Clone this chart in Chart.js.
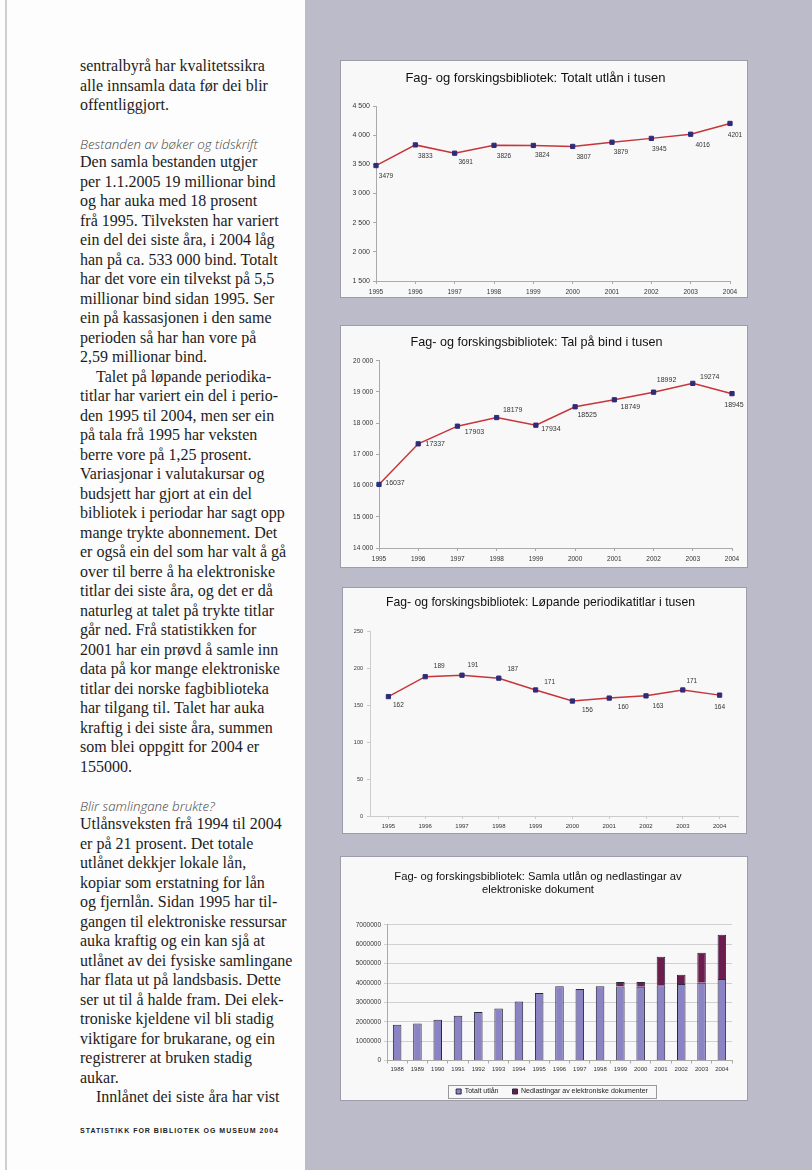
<!DOCTYPE html>
<html>
<head>
<meta charset="utf-8">
<script src="https://cdn.jsdelivr.net/npm/chart.js@4.4.0/dist/chart.umd.min.js"></script>
<style>
  body { margin: 0; width: 812px; height: 1170px; position: relative; background: #fdfdfd; overflow: hidden; }
  .edge { position: absolute; left: 5px; top: 0; width: 2px; height: 1170px; background: #cfcfd2; }
  .panel { position: absolute; left: 305px; top: 0; width: 507px; height: 1170px; background: #bcbbca; }
  .box { position: absolute; background: #f8f8f8; border: 1px solid #9d9ca8; overflow: visible; }
  .box canvas { position: absolute; left: 0; top: 0; }
  .txt { position: absolute; left: 80px; font-family: "Liberation Serif", serif; font-size: 16px;
         line-height: 19.5px; color: #1c1c1c; white-space: nowrap; }
  .ind { padding-left: 16px; }
  .head { position: absolute; left: 80px; font-family: "Open Sans", sans-serif; font-style: italic;
          font-weight: 300; font-size: 13.3px; line-height: 14px; color: #444; white-space: nowrap; }
  .foot { position: absolute; left: 80px; top: 1127px; font-family: "Liberation Sans", sans-serif;
          font-weight: bold; font-size: 7px; letter-spacing: 1px; color: #222; white-space: nowrap; }
</style>
</head>
<body>
<div class="edge"></div>

<div class="txt" style="top:56px">
  <div>sentralbyrå har kvalitetssikra</div>
  <div>alle innsamla data før dei blir</div>
  <div>offentliggjort.</div>
</div>

<div class="head" style="top:137px">Bestanden av bøker og tidskrift</div>

<div class="txt" style="top:152px">
  <div>Den samla bestanden utgjer</div>
  <div>per 1.1.2005 19 millionar bind</div>
  <div>og har auka med 18 prosent</div>
  <div>frå 1995. Tilveksten har variert</div>
  <div>ein del dei siste åra, i 2004 låg</div>
  <div>han på ca. 533 000 bind. Totalt</div>
  <div>har det vore ein tilvekst på 5,5</div>
  <div>millionar bind sidan 1995. Ser</div>
  <div>ein på kassasjonen i den same</div>
  <div>perioden så har han vore på</div>
  <div>2,59 millionar bind.</div>
  <div class="ind">Talet på løpande periodika-</div>
  <div>titlar har variert ein del i perio-</div>
  <div>den 1995 til 2004, men ser ein</div>
  <div>på tala frå 1995 har veksten</div>
  <div>berre vore på 1,25 prosent.</div>
  <div>Variasjonar i valutakursar og</div>
  <div>budsjett har gjort at ein del</div>
  <div>bibliotek i periodar har sagt opp</div>
  <div>mange trykte abonnement. Det</div>
  <div>er også ein del som har valt å gå</div>
  <div>over til berre å ha elektroniske</div>
  <div>titlar dei siste åra, og det er då</div>
  <div>naturleg at talet på trykte titlar</div>
  <div>går ned. Frå statistikken for</div>
  <div>2001 har ein prøvd å samle inn</div>
  <div>data på kor mange elektroniske</div>
  <div>titlar dei norske fagbiblioteka</div>
  <div>har tilgang til. Talet har auka</div>
  <div>kraftig i dei siste åra, summen</div>
  <div>som blei oppgitt for 2004 er</div>
  <div>155000.</div>
</div>

<div class="head" style="top:799px">Blir samlingane brukte?</div>

<div class="txt" style="top:814px">
  <div>Utlånsveksten frå 1994 til 2004</div>
  <div>er på 21 prosent. Det totale</div>
  <div>utlånet dekkjer lokale lån,</div>
  <div>kopiar som erstatning for lån</div>
  <div>og fjernlån. Sidan 1995 har til-</div>
  <div>gangen til elektroniske ressursar</div>
  <div>auka kraftig og ein kan sjå at</div>
  <div>utlånet av dei fysiske samlingane</div>
  <div>har flata ut på landsbasis. Dette</div>
  <div>ser ut til å halde fram. Dei elek-</div>
  <div>troniske kjeldene vil bli stadig</div>
  <div>viktigare for brukarane, og ein</div>
  <div>registrerer at bruken stadig</div>
  <div>aukar.</div>
  <div class="ind">Innlånet dei siste åra har vist</div>
</div>

<div class="foot">STATISTIKK FOR BIBLIOTEK OG MUSEUM 2004</div>

<div class="panel"></div>
<div class="box" style="left:340px;top:60px;width:406px;height:236px"><canvas id="c1" width="406" height="236"></canvas></div>
<div class="box" style="left:340px;top:325px;width:406px;height:241px"><canvas id="c2" width="406" height="241"></canvas></div>
<div class="box" style="left:342px;top:587px;width:403px;height:245px"><canvas id="c3" width="403" height="245"></canvas></div>
<div class="box" style="left:340px;top:856px;width:406px;height:243px"><canvas id="c4" width="406" height="248"></canvas></div>

<script>
const years = ['1995', '1996', '1997', '1998', '1999', '2000', '2001', '2002', '2003', '2004'];
const utlan = [3479, 3833, 3691, 3826, 3824, 3807, 3879, 3945, 4016, 4201];
const bind = [16037, 17337, 17903, 18179, 17934, 18525, 18749, 18992, 19274, 18945];
const periodika = [162, 189, 191, 187, 171, 156, 160, 163, 171, 164];

const barYears = ['1988', '1989', '1990', '1991', '1992', '1993', '1994', '1995', '1996',
                  '1997', '1998', '1999', '2000', '2001', '2002', '2003', '2004'];
const totaltUtlan = [1840000, 1910000, 2100000, 2310000, 2500000, 2685000, 3045000, 3479000, 3833000,
                     3691000, 3826000, 3824000, 3807000, 3879000, 3945000, 4016000, 4201000];
const nedlastingar = [null, null, null, null, null, null, null, null, null,
                      null, null, 230000, 250000, 1470000, 480000, 1540000, 2290000];

Chart.defaults.font.family = '"Liberation Sans", Arial, sans-serif';
Chart.defaults.color = '#333';
Chart.defaults.animation = false;
Chart.defaults.responsive = false;
Chart.defaults.plugins.legend.display = false;
Chart.defaults.plugins.tooltip.enabled = false;

// value labels next to the points
const pointLabels = {
  id: 'pointLabels',
  afterDatasetsDraw(chart, args, opts) {
    if (!opts.offsets) return;
    const ctx = chart.ctx;
    const meta = chart.getDatasetMeta(0);
    ctx.save();
    ctx.font = opts.size + 'px "Liberation Sans"';
    ctx.fillStyle = '#333';
    ctx.textAlign = 'center';
    ctx.textBaseline = 'middle';
    meta.data.forEach((pt, i) => {
      const o = opts.offsets[i];
      ctx.fillText(chart.data.datasets[0].data[i], pt.x + o[0], pt.y + o[1]);
    });
    ctx.restore();
  }
};

// nudge the legend right and frame its items
const legendBox = {
  id: 'legendBox',
  afterLayout(chart) {
    chart.legend.left += 14;
    chart.legend.right += 14;
  },
  afterDraw(chart) {
    const boxes = chart.legend && chart.legend.legendHitBoxes;
    if (!boxes || !boxes.length) return;
    let l = Infinity, r = -Infinity, t = Infinity, b = -Infinity;
    boxes.forEach(h => {
      l = Math.min(l, h.left); r = Math.max(r, h.left + h.width);
      t = Math.min(t, h.top); b = Math.max(b, h.top + h.height);
    });
    const ctx = chart.ctx;
    ctx.save();
    ctx.strokeStyle = '#999';
    ctx.lineWidth = 1;
    ctx.strokeRect(Math.round(l - 8) + 0.5, Math.round(t - 3) + 0.5, Math.round(r - l + 16), Math.round(b - t + 6));
    ctx.restore();
  }
};

function spaced(v) {
  return String(v).replace(/\B(?=(\d{3})+(?!\d))/g, ' ');
}

function lineChart(id, title, values, yOpts, lay, offsets) {
  return new Chart(document.getElementById(id), {
    type: 'line',
    data: {
      labels: years,
      datasets: [{
        data: values,
        borderColor: '#c8343a',
        borderWidth: 1.5,
        tension: 0,
        pointStyle: 'rect',
        pointRadius: 3,
        pointBackgroundColor: '#2e2c7a',
        pointBorderColor: '#2e2c7a',
        pointBorderWidth: 1
      }]
    },
    options: {
      layout: { padding: { left: 0, right: lay.right, top: 0, bottom: 0 } },
      plugins: {
        title: {
          display: true,
          text: title,
          color: '#111',
          font: { size: lay.titleSize, weight: 'normal' },
          padding: { top: lay.titleTop, bottom: lay.titleBottom }
        },
        pointLabels: { offsets: offsets, size: lay.labelSize }
      },
      scales: {
        x: {
          offset: lay.offset,
          grid: { drawOnChartArea: false, tickLength: 3, color: lay.axisColor },
          border: { color: lay.axisColor },
          ticks: { font: { size: lay.xFont }, padding: 4, maxRotation: 0, autoSkip: false },
          afterFit: s => { s.height = lay.xh; }
        },
        y: Object.assign({
          grid: { drawOnChartArea: false, tickLength: 3, color: lay.axisColor },
          border: { color: lay.axisColor },
          afterFit: s => { s.width = lay.yw; }
        }, yOpts)
      }
    },
    plugins: [pointLabels]
  });
}

lineChart('c1', 'Fag- og forskingsbibliotek: Totalt utlån i tusen', utlan,
  { min: 1500, max: 4500, ticks: { stepSize: 500, font: { size: 7 }, padding: 3, callback: spaced } },
  { right: 17, titleSize: 13, titleTop: 9.2, titleBottom: 20.2, xh: 16, yw: 35, offset: false, axisColor: '#aaa', xFont: 6.5, labelSize: 6.5 },
  [[10, 11], [10, 11], [11, 9], [10, 11], [9, 10], [11, 11], [9, 10], [8, 11], [12, 11], [5, 12]]);

lineChart('c2', 'Fag- og forskingsbibliotek: Tal på bind i tusen', bind,
  { min: 14000, max: 20000, ticks: { stepSize: 1000, font: { size: 6.5 }, padding: 3, callback: spaced } },
  { right: 15, titleSize: 12.6, titleTop: 9.4, titleBottom: 10.2, xh: 19, yw: 38, offset: false, axisColor: '#aaa', xFont: 6.5, labelSize: 7 },
  [[16, -1], [17, 0], [17, 6], [16, -7], [15, 4], [12, 8], [16, 7], [13, -12], [17, -6], [2, 11]]);

lineChart('c3', 'Fag- og forskingsbibliotek: Løpande periodikatitlar i tusen', periodika,
  { min: 0, max: 250, ticks: { stepSize: 50, font: { size: 5.5 }, padding: 4 } },
  { right: 8, titleSize: 12.2, titleTop: 7.7, titleBottom: 21.4, xh: 17, yw: 27, offset: true, axisColor: '#ccc', xFont: 6, labelSize: 6.5 },
  [[10, 9], [14, -10], [11, -10], [14, -9], [14, -8], [15, 9], [14, 9], [12, 10], [9, -9], [0, 12]]);

new Chart(document.getElementById('c4'), {
  type: 'bar',
  data: {
    labels: barYears,
    datasets: [
      { label: 'Totalt utlån', data: totaltUtlan, backgroundColor: '#8a83c4', borderColor: '#2b2940', borderWidth: 1 },
      { label: 'Nedlastingar av elektroniske dokumenter', data: nedlastingar, backgroundColor: '#6c1d4e', borderColor: '#2b2940', borderWidth: 1 }
    ]
  },
  options: {
    layout: { padding: { left: 3, right: 15, top: 0, bottom: 0 } },
    datasets: { bar: { barPercentage: 0.42, categoryPercentage: 1 } },
    plugins: {
      title: {
        display: true,
        text: ['Fag- og forskingsbibliotek: Samla utlån og nedlastingar av', 'elektroniske dokument'],
        color: '#111',
        font: { size: 11.2, weight: 'normal', lineHeight: 1.2 },
        padding: { top: 13, bottom: 28 }
      },
      legend: {
        display: true,
        position: 'bottom',
        labels: { boxWidth: 5, boxHeight: 5, font: { size: 7 }, padding: 14, color: '#222' }
      }
    },
    scales: {
      x: {
        stacked: true,
        grid: { drawOnChartArea: false, tickLength: 3, color: '#aaa' },
        border: { color: '#aaa' },
        ticks: { font: { size: 6 }, padding: 2, maxRotation: 0, autoSkip: false },
        afterFit: s => { s.height = 13.5; }
      },
      y: {
        stacked: true,
        min: 0,
        max: 7000000,
        grid: { color: '#d0d0d0', tickLength: 3 },
        border: { color: '#aaa' },
        ticks: { stepSize: 1000000, font: { size: 6.5 }, padding: 3, callback: v => String(v) },
        afterFit: s => { s.width = 43; }
      }
    }
  },
  plugins: [legendBox]
});
</script>
</body>
</html>
